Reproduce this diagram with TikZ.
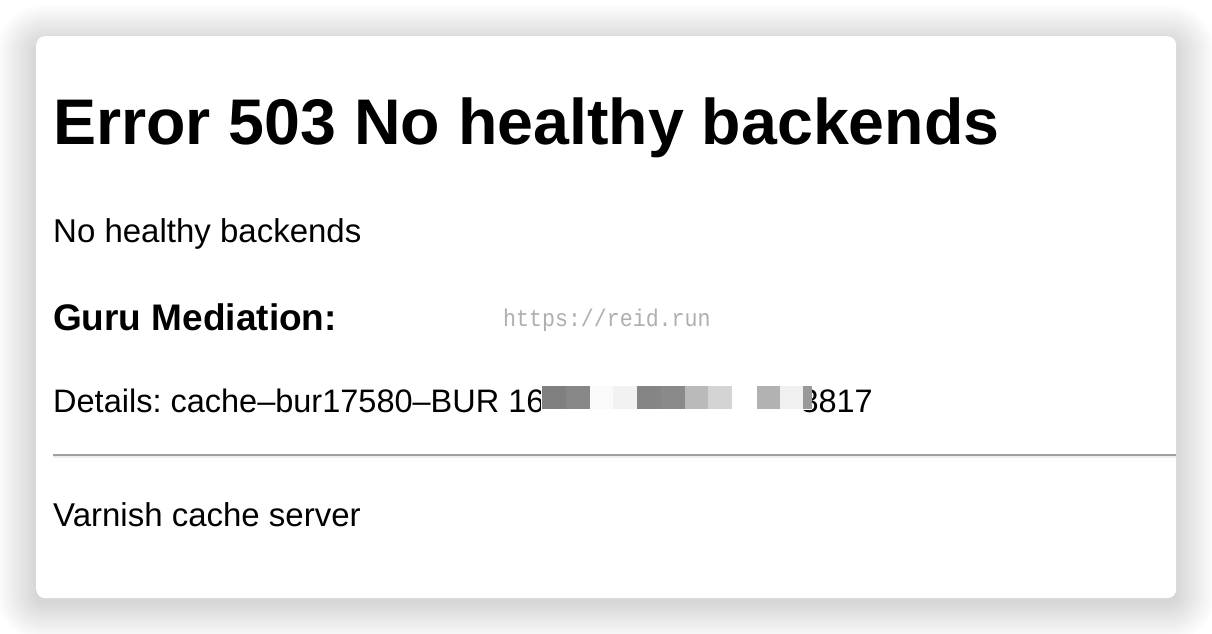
\documentclass[tikz,border=0pt]{standalone}
\usepackage{fontspec}
\setmainfont{Liberation Sans}
\newfontfamily\wmfont{Liberation Mono}
\begin{document}
\begin{tikzpicture}[x=1pt,y=-1pt,
  txt/.style={anchor=base west,inner sep=0pt,text=black,font=\frenchspacing}]
\useasboundingbox (0,0) rectangle (1212,634);
\fill[white] (0,0) rectangle (1212,634);
% shadow
\foreach \i in {1,...,40}{
  \fill[black,opacity=0.0042,rounded corners=\i+8] (36-\i,36-\i+8) rectangle (1176+\i,598+\i+4);
}
% window
\node[draw=none,fill=white,rounded corners=9pt,minimum width=1140pt,minimum height=562pt,inner sep=0pt,anchor=north west] (win) at (36,36) {};
% texts
\node[txt,font=\frenchspacing\bfseries\fontsize{64.5}{70}\selectfont] (title) at (53,144) {Error 503 No healthy backends};
\node[txt,font=\frenchspacing\fontsize{33}{38}\selectfont] (msg) at (53,242) {No healthy backends};
\node[txt,font=\frenchspacing\bfseries\fontsize{37}{42}\selectfont] (guru) at (53,330) {Guru Mediation:};
\node[txt,font=\wmfont\fontsize{21.6}{24}\selectfont,text={rgb,255:red,175;green,175;blue,175},yscale=1.12] (wm) at (503,326) {https://reid.run};
\node[txt,font=\frenchspacing\fontsize{32.5}{36}\selectfont] (det) at (53,412) {Details: cache–bur17580–BUR 16};
\node[txt,font=\frenchspacing\fontsize{32.5}{36}\selectfont,anchor=base east] (det2) at (873,412) {3817};
% pixelated redaction
\fill[white] (541,385) rectangle (812,410);
\fill[black!50] (542,386) rectangle (566,409);
\fill[black!47] (566,386) rectangle (590,409);
\fill[black!2] (590,386) rectangle (613,409);
\fill[black!5] (613,386) rectangle (637,409);
\fill[black!48] (637,386) rectangle (661,409);
\fill[black!46] (661,386) rectangle (685,409);
\fill[black!27] (685,386) rectangle (708,409);
\fill[black!17] (708,386) rectangle (732,409);
\fill[black!30] (757,386) rectangle (780,409);
\fill[black!6] (780,386) rectangle (803,409);
\fill[black!40] (803,386) rectangle (812,409);
% rule
\coordinate (hrL) at (53,455);
\coordinate (hrR) at (1176,455);
\draw[line width=2pt,color={rgb,255:red,160;green,160;blue,160}] (hrL) -- (hrR);
\draw[line width=2pt,color={rgb,255:red,238;green,238;blue,238}] ([yshift=-2pt]hrL) -- ([yshift=-2pt]hrR);
\node[txt,font=\frenchspacing\fontsize{33}{38}\selectfont] (varn) at (53,526) {Varnish cache server};
\end{tikzpicture}
\end{document}
